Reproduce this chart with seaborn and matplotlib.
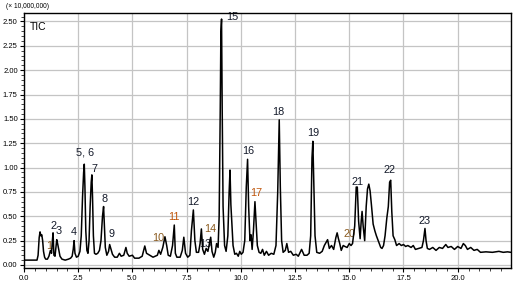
import matplotlib
matplotlib.use("Agg")
import matplotlib.pyplot as plt
from matplotlib.ticker import MultipleLocator, FormatStrFormatter
import seaborn as sns
import pandas as pd

# Retention time (min) and TIC intensity (x 10,000,000)
time = [0.00, 0.60, 0.65, 0.70, 0.74, 0.78, 0.82, 0.86, 0.90, 0.95, 1.00, 1.08, 1.15, 1.22, 1.27,
        1.31, 1.34, 1.38, 1.43, 1.48, 1.51, 1.55, 1.60, 1.66, 1.75, 1.90, 2.05, 2.15, 2.22, 2.27,
        2.31, 2.35, 2.42, 2.50, 2.58, 2.64, 2.70, 2.75, 2.78, 2.81, 2.85, 2.90, 2.95, 3.00, 3.05,
        3.10, 3.13, 3.16, 3.20, 3.25, 3.32, 3.40, 3.48, 3.55, 3.62, 3.67, 3.71, 3.75, 3.82, 3.90,
        3.95, 4.00, 4.08, 4.18, 4.30, 4.40, 4.48, 4.60, 4.70, 4.76, 4.85, 5.00, 5.10, 5.30, 5.45,
        5.57, 5.65, 5.80, 5.95, 6.05, 6.15, 6.22, 6.30, 6.40, 6.50, 6.58, 6.65, 6.75, 6.85, 6.93,
        6.98, 7.05, 7.20, 7.30, 7.37, 7.45, 7.55, 7.65, 7.72, 7.81, 7.88, 7.95, 8.05, 8.12, 8.18,
        8.24, 8.32, 8.40, 8.48, 8.55, 8.61, 8.67, 8.75, 8.82, 8.88, 8.95, 9.00, 9.05, 9.08, 9.11,
        9.14, 9.18, 9.25, 9.32, 9.40, 9.46, 9.50, 9.54, 9.58, 9.64, 9.72, 9.80, 9.88, 9.95, 10.02,
        10.10, 10.18, 10.25, 10.31, 10.36, 10.42, 10.47, 10.52, 10.58, 10.65, 10.70, 10.76, 10.84,
        10.92, 11.00, 11.08, 11.18, 11.28, 11.40, 11.52, 11.62, 11.70, 11.77, 11.82, 11.88, 11.95,
        12.05, 12.12, 12.20, 12.30, 12.42, 12.55, 12.65, 12.80, 12.92, 13.05, 13.15, 13.22, 13.28,
        13.32, 13.36, 13.42, 13.50, 13.63, 13.75, 13.85, 13.95, 14.00, 14.08, 14.18, 14.28, 14.38,
        14.44, 14.50, 14.56, 14.63, 14.72, 14.80, 14.90, 15.00, 15.08, 15.15, 15.25, 15.32, 15.37,
        15.43, 15.50, 15.55, 15.59, 15.64, 15.71, 15.78, 15.84, 15.90, 15.96, 16.02, 16.10, 16.18,
        16.25, 16.35, 16.45, 16.51, 16.58, 16.65, 16.73, 16.80, 16.86, 16.91, 16.96, 17.02, 17.10,
        17.18, 17.30, 17.40, 17.50, 17.60, 17.70, 17.85, 17.95, 18.05, 18.20, 18.35, 18.42, 18.49,
        18.54, 18.60, 18.70, 18.85, 19.00, 19.15, 19.30, 19.45, 19.55, 19.70, 19.85, 20.00, 20.15,
        20.26, 20.35, 20.45, 20.60, 20.75, 20.90, 21.05, 21.30, 21.60, 21.90, 22.10, 22.30, 22.45]
intensity = [0.05, 0.05, 0.10, 0.28, 0.34, 0.30, 0.31, 0.25, 0.14, 0.08, 0.06, 0.06, 0.09, 0.15, 0.12,
             0.25, 0.33, 0.10, 0.09, 0.20, 0.26, 0.22, 0.16, 0.09, 0.06, 0.05, 0.06, 0.07, 0.09, 0.16,
             0.25, 0.12, 0.08, 0.09, 0.14, 0.30, 0.70, 0.95, 1.035, 0.80, 0.35, 0.15, 0.12, 0.25, 0.60,
             0.85, 0.925, 0.70, 0.30, 0.12, 0.11, 0.12, 0.15, 0.25, 0.50, 0.60, 0.40, 0.18, 0.10, 0.14,
             0.21, 0.17, 0.11, 0.08, 0.08, 0.12, 0.09, 0.10, 0.18, 0.12, 0.09, 0.10, 0.07, 0.07, 0.09,
             0.195, 0.12, 0.10, 0.08, 0.09, 0.10, 0.15, 0.11, 0.18, 0.29, 0.20, 0.10, 0.09, 0.20, 0.41,
             0.12, 0.08, 0.08, 0.15, 0.285, 0.12, 0.08, 0.10, 0.35, 0.565, 0.25, 0.13, 0.13, 0.22, 0.37,
             0.16, 0.11, 0.17, 0.14, 0.22, 0.285, 0.14, 0.08, 0.13, 0.22, 0.18, 0.50, 1.60, 2.40, 2.525,
             1.60, 0.60, 0.20, 0.14, 0.30, 0.75, 0.975, 0.62, 0.45, 0.20, 0.11, 0.12, 0.09, 0.14, 0.11,
             0.13, 0.25, 0.80, 1.085, 0.60, 0.25, 0.31, 0.16, 0.35, 0.65, 0.45, 0.20, 0.13,
             0.12, 0.16, 0.10, 0.14, 0.10, 0.12, 0.11, 0.20, 0.75, 1.49, 0.80, 0.25, 0.13,
             0.15, 0.22, 0.13, 0.14, 0.10, 0.11, 0.09, 0.16, 0.10, 0.10, 0.12, 0.30, 1.10,
             1.27, 0.90, 0.30, 0.13, 0.12, 0.14, 0.20, 0.24, 0.26, 0.17, 0.20, 0.16, 0.28,
             0.33, 0.27, 0.22, 0.15, 0.20, 0.19, 0.18, 0.22, 0.20, 0.22, 0.40, 0.80, 0.80,
             0.45, 0.27, 0.45, 0.55, 0.40, 0.25, 0.60, 0.78, 0.83, 0.76, 0.62, 0.42, 0.35,
             0.30, 0.24, 0.18, 0.17, 0.20, 0.30, 0.48, 0.60, 0.85, 0.87, 0.55, 0.30, 0.26,
             0.20, 0.22, 0.20, 0.21, 0.19, 0.20, 0.18, 0.20, 0.16, 0.17, 0.18, 0.25, 0.375,
             0.25, 0.17, 0.16, 0.18, 0.15, 0.18, 0.17, 0.21, 0.18, 0.19, 0.16, 0.19, 0.17,
             0.22, 0.20, 0.16, 0.18, 0.15, 0.16, 0.13, 0.135, 0.13, 0.14, 0.13, 0.135, 0.13]

# Peak labels and their positions
peak_labels = ["1", "2", "3", "4", "5, 6", "7", "8", "9", "10", "11", "12", "13",
               "14", "15", "16", "17", "18", "19", "20", "21", "22", "23"]
label_x = [1.17, 1.36, 1.59, 2.31, 2.82, 3.24, 3.72, 4.03, 6.19, 6.91, 7.81, 8.38,
           8.61, 9.61, 10.34, 10.71, 11.73, 13.36, 15.02, 15.40, 16.87, 18.46]
label_y = [0.19, 0.40, 0.35, 0.34, 1.15, 0.99, 0.675, 0.315, 0.28, 0.49, 0.65, 0.22,
           0.37, 2.545, 1.175, 0.737, 1.575, 1.36, 0.32, 0.856, 0.976, 0.455]
orange_labels = {"1", "10", "14", "20"}
red_labels = {"11", "17"}

sns.set_theme(style="ticks")
plt.rcParams['font.family'] = ['Liberation Sans', 'DejaVu Sans']

fig = plt.figure(figsize=(5.16, 2.85), dpi=100)
ax = fig.add_axes([0.0465, 0.0586, 0.9435, 0.8968])

df = pd.DataFrame({"time": time, "intensity": intensity})
sns.lineplot(data=df, x="time", y="intensity", ax=ax, color="black", linewidth=1.1,
             sort=False, estimator=None, zorder=3)

ax.set_xlim(0, 22.45)
ax.set_ylim(-0.034, 2.59)
ax.xaxis.set_major_locator(MultipleLocator(2.5))
ax.xaxis.set_minor_locator(MultipleLocator(0.5))
ax.yaxis.set_major_locator(MultipleLocator(0.25))
ax.yaxis.set_minor_locator(MultipleLocator(0.05))
ax.xaxis.set_major_formatter(FormatStrFormatter("%.1f"))
ax.yaxis.set_major_formatter(FormatStrFormatter("%.2f"))
ax.grid(True, which="major", color="#c4c4c4", linewidth=0.9, zorder=0)
ax.set_axisbelow(True)
ax.tick_params(axis="both", which="major", labelsize=5.5, length=3, width=0.8, pad=1.5,
               colors="black")
ax.tick_params(axis="both", which="minor", length=2, width=0.6)
ax.set_xlabel("")
ax.set_ylabel("")
for s in ax.spines.values():
    s.set_color("black")
    s.set_linewidth(1.0)

for lab, lx, ly in zip(peak_labels, label_x, label_y):
    if lab in red_labels:
        c = "#c0560c"
    elif lab in orange_labels:
        c = "#8a5a1e"
    else:
        c = "#141a2a"
    ax.text(lx, ly, lab, ha="center", va="center", fontsize=7.8, color=c, zorder=2)

ax.text(0.012, 0.965, "TIC", transform=ax.transAxes, ha="left", va="top", fontsize=7.5,
        color="black")
fig.text(0.012, 0.99, "(\u00d7 10,000,000)", ha="left", va="top", fontsize=4.8, color="black")

fig.savefig("out.png", dpi=100)
